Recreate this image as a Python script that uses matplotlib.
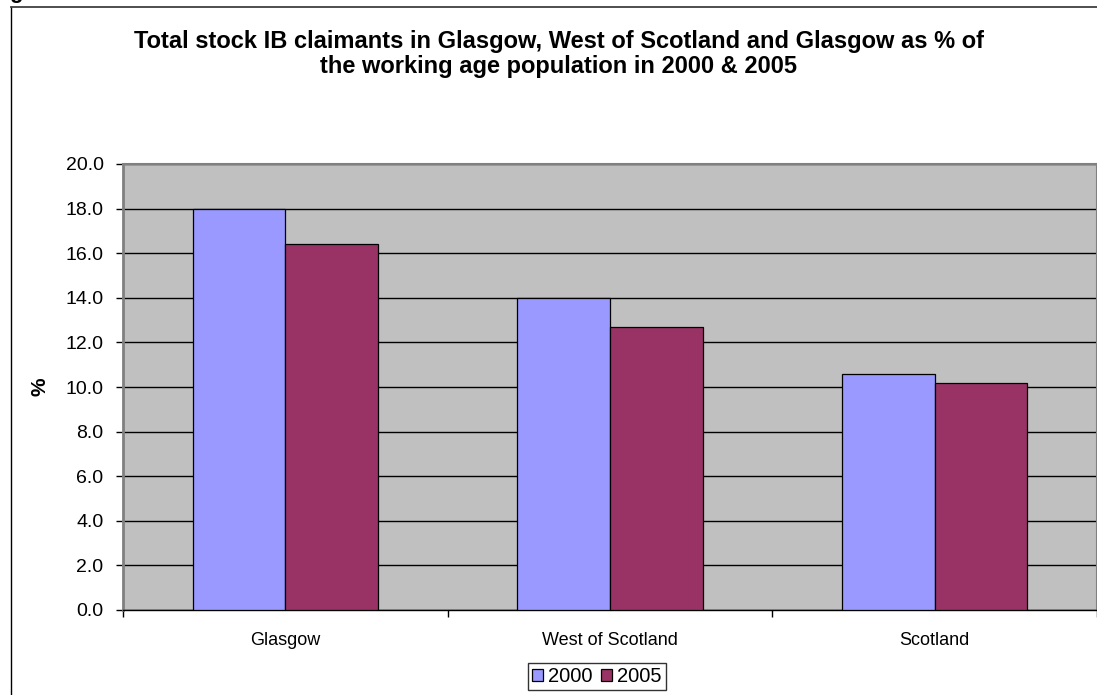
import numpy as np
import matplotlib
matplotlib.use('Agg')
import matplotlib.pyplot as plt
from matplotlib.lines import Line2D

# --- Data ---
areas = ['Glasgow', 'West of Scotland', 'Scotland']
years = ['2000', '2005']
values_2000 = [18.0, 14.0, 10.6]
values_2005 = [16.4, 12.7, 10.2]
y_ticks = [0.0, 2.0, 4.0, 6.0, 8.0, 10.0, 12.0, 14.0, 16.0, 18.0, 20.0]

title_text = ('Total stock IB claimants in Glasgow, West of Scotland and Glasgow as % of\n'
              'the working age population in 2000 & 2005')

plt.rcParams['font.family'] = ['Liberation Sans', 'DejaVu Sans']

W, H = 1097, 695
fig = plt.figure(figsize=(W / 100, H / 100), dpi=100)
fig.patch.set_facecolor('white')

# chart frame (only left and top edges are inside the crop)
fig.add_artist(Line2D([10.5 / W, 10.5 / W], [0, 1 - 7 / H], color='black', lw=1.0))
fig.add_artist(Line2D([10.5 / W, 1.0], [1 - 7 / H, 1 - 7 / H], color='#404040', lw=1.3))
# descender of the caption text above the frame, cut off by the crop
fig.text(9 / W, 1 + 2 / H, 'g', fontsize=16, fontweight='bold', va='baseline', ha='left')

left, right, top, bottom = 123, 1097, 164, 610
ax = fig.add_axes([left / W, 1 - bottom / H, (right - left) / W, (bottom - top) / H])
ax.set_facecolor('#C0C0C0')

x = np.arange(len(areas))
bar_w = 1 / 3.5
ax.bar(x - bar_w / 2, values_2000, width=bar_w, color='#9999FF', edgecolor='black',
       linewidth=0.9, label=years[0], zorder=3)
ax.bar(x + bar_w / 2, values_2005, width=bar_w, color='#993366', edgecolor='black',
       linewidth=0.9, label=years[1], zorder=3)

ax.set_xlim(-0.5, len(areas) - 0.5)
ax.set_ylim(0, 20)

ax.set_yticks(y_ticks)
ax.set_yticklabels([f'{v:.1f}' for v in y_ticks], fontsize=14)
ax.tick_params(axis='y', direction='out', length=5, width=1, pad=9, color='black')
ax.yaxis.grid(True, color='black', linewidth=1.0, zorder=1)
ax.set_axisbelow(True)

ax.set_xticks(np.arange(-0.5, len(areas), 1.0))
ax.set_xticklabels([])
ax.tick_params(axis='x', which='major', direction='out', length=5, width=1, color='black')
ax.set_xticks(x, minor=True)
ax.set_xticklabels(areas, minor=True, fontsize=13)
ax.tick_params(axis='x', which='minor', length=0, pad=16)

ax.spines['left'].set_color('#808080')
ax.spines['left'].set_linewidth(2)
ax.spines['top'].set_color('#808080')
ax.spines['top'].set_linewidth(1.5)
ax.spines['right'].set_color('#808080')
ax.spines['right'].set_linewidth(1.5)
ax.spines['bottom'].set_color('black')
ax.spines['bottom'].set_linewidth(1.0)

fig.text(40 / W, 1 - 387 / H, '%', fontsize=15, fontweight='bold', rotation=90,
         ha='center', va='center')

fig.text(559 / W, 1 - 54 / H, title_text, fontsize=17, fontweight='bold',
         ha='center', va='center', linespacing=1.1)

fig.legend(loc='upper center', bbox_to_anchor=(597 / W, 1 - 663 / H), ncol=2,
           fontsize=14.5, frameon=True, fancybox=False, edgecolor='black',
           handlelength=0.55, handleheight=0.55, handletextpad=0.25, columnspacing=0.4,
           borderpad=0.2, borderaxespad=0)

fig.savefig('out.png', dpi=100)
plt.close(fig)
